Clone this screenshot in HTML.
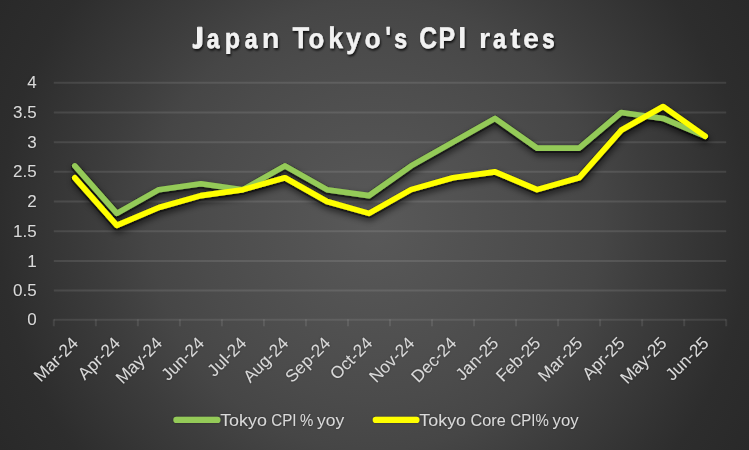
<!DOCTYPE html>
<html><head><meta charset="utf-8"><style>
html,body{margin:0;padding:0;}
body{width:749px;height:450px;overflow:hidden;position:relative;
background:radial-gradient(circle at 374.5px 225px, rgb(89,89,89) 0px, rgb(75,75,75) 175px, rgb(70,70,70) 225px, rgb(61,61,61) 275px, rgb(45,45,45) 375px, rgb(41,41,41) 437px);
font-family:"Liberation Sans", sans-serif;}
svg{position:absolute;left:0;top:0;}
.g{stroke:rgba(255,255,255,0.1);stroke-width:2;}
.t{stroke:rgba(255,255,255,0.09);stroke-width:2;}
.yl{font-size:17px;fill:#d9d9d9;}
.xl{font-size:17.2px;fill:#d9d9d9;}
.ttl{text-rendering:geometricPrecision;font-size:30px;font-weight:bold;fill:#f2f2f2;stroke:#f2f2f2;stroke-linejoin:round;}
.lg{font-size:17px;fill:#d9d9d9;}
</style></head><body>
<svg width="749" height="450" viewBox="0 0 749 450">
<defs>
<filter id="sh" filterUnits="userSpaceOnUse" x="0" y="0" width="749" height="450">
<feMorphology in="SourceAlpha" operator="dilate" radius="0.6"/>
<feGaussianBlur stdDeviation="0.5"/>
<feOffset dx="0.2" dy="0.5"/>
<feComponentTransfer result="tight"><feFuncA type="linear" slope="0.45"/></feComponentTransfer>
<feGaussianBlur in="SourceAlpha" stdDeviation="3.6"/>
<feOffset dx="0.8" dy="3.8"/>
<feComponentTransfer result="wide"><feFuncA type="linear" slope="0.75"/></feComponentTransfer>
<feMerge><feMergeNode in="wide"/><feMergeNode in="tight"/><feMergeNode in="SourceGraphic"/></feMerge>
</filter>
<filter id="tsh" filterUnits="userSpaceOnUse" x="0" y="0" width="749" height="450">
<feGaussianBlur in="SourceAlpha" stdDeviation="1.0"/>
<feOffset dx="0.5" dy="1.8" result="b"/>
<feComponentTransfer><feFuncA type="linear" slope="0.75"/></feComponentTransfer>
<feMerge><feMergeNode/><feMergeNode in="SourceGraphic"/></feMerge>
</filter>
<filter id="lsh" filterUnits="userSpaceOnUse" x="0" y="0" width="749" height="450">
<feGaussianBlur in="SourceAlpha" stdDeviation="0.8"/>
<feComponentTransfer><feFuncA type="linear" slope="0.35"/></feComponentTransfer>
<feMerge><feMergeNode/><feMergeNode in="SourceGraphic"/></feMerge>
</filter>
</defs>
<g class="ttl" filter="url(#tsh)"><path d="M197.5,27.2 H201.9 V42.4 C201.9,46.4 199.8,48.4 196.3,48.4 C195.0,48.4 193.9,48.1 193.0,47.6 V43.9 C193.8,44.5 194.7,44.9 195.6,44.9 C197.0,44.9 197.5,44.0 197.5,42.0 Z"/><text transform="matrix(0.767,0,0,0.909,206.80,47.68)" stroke-width="0.70">a</text><text transform="matrix(0.833,0,0,0.947,224.76,47.77)" stroke-width="0.49">p</text><text transform="matrix(0.767,0,0,0.909,244.70,47.68)" stroke-width="0.70">a</text><text transform="matrix(0.967,0,0,0.941,261.73,47.96)" stroke-width="0.09">n</text><text transform="matrix(0.915,0,0,1.005,292.61,47.87)" stroke-width="0.25">T</text><text transform="matrix(0.860,0,0,0.924,308.57,47.81)" stroke-width="0.41">o</text><text transform="matrix(0.891,0,0,0.997,328.27,47.84)" stroke-width="0.31">k</text><text transform="matrix(0.898,0,0,0.967,346.12,47.86)" stroke-width="0.30">y</text><text transform="matrix(0.881,0,0,0.928,364.42,47.84)" stroke-width="0.35">o</text><text transform="matrix(0.754,0,0,1.016,385.40,47.74)" stroke-width="0.52">&#39;</text><text transform="matrix(0.769,0,0,0.908,394.25,47.69)" stroke-width="0.68">s</text><text transform="matrix(0.818,0,0,0.986,419.22,47.73)" stroke-width="0.56">C</text><text transform="matrix(0.829,0,0,0.993,438.45,47.75)" stroke-width="0.51">P</text><text transform="matrix(1.019,0,0,1.017,457.95,48.00)" stroke-width="0.00">I</text><text transform="matrix(0.965,0,0,0.941,479.03,47.96)" stroke-width="0.09">r</text><text transform="matrix(0.781,0,0,0.911,492.88,47.70)" stroke-width="0.65">a</text><text transform="matrix(1.057,0,0,0.971,510.02,48.00)" stroke-width="0.00">t</text><text transform="matrix(0.958,0,0,0.941,522.94,47.94)" stroke-width="0.12">e</text><text transform="matrix(0.738,0,0,0.903,542.21,47.65)" stroke-width="0.78">s</text></g>
<line x1="53.8" x2="726.2" y1="290.61" y2="290.61" class="g"/><line x1="53.8" x2="726.2" y1="260.93" y2="260.93" class="g"/><line x1="53.8" x2="726.2" y1="231.24" y2="231.24" class="g"/><line x1="53.8" x2="726.2" y1="201.55" y2="201.55" class="g"/><line x1="53.8" x2="726.2" y1="171.86" y2="171.86" class="g"/><line x1="53.8" x2="726.2" y1="142.18" y2="142.18" class="g"/><line x1="53.8" x2="726.2" y1="112.49" y2="112.49" class="g"/><line x1="53.8" x2="726.2" y1="82.80" y2="82.80" class="g"/>
<line x1="53.8" x2="726.2" y1="319.80" y2="319.80" class="t"/>
<line x1="53.80" x2="53.80" y1="319.30" y2="326.30" class="t"/><line x1="95.83" x2="95.83" y1="319.30" y2="326.30" class="t"/><line x1="137.85" x2="137.85" y1="319.30" y2="326.30" class="t"/><line x1="179.88" x2="179.88" y1="319.30" y2="326.30" class="t"/><line x1="221.90" x2="221.90" y1="319.30" y2="326.30" class="t"/><line x1="263.93" x2="263.93" y1="319.30" y2="326.30" class="t"/><line x1="305.95" x2="305.95" y1="319.30" y2="326.30" class="t"/><line x1="347.98" x2="347.98" y1="319.30" y2="326.30" class="t"/><line x1="390.00" x2="390.00" y1="319.30" y2="326.30" class="t"/><line x1="432.03" x2="432.03" y1="319.30" y2="326.30" class="t"/><line x1="474.05" x2="474.05" y1="319.30" y2="326.30" class="t"/><line x1="516.08" x2="516.08" y1="319.30" y2="326.30" class="t"/><line x1="558.10" x2="558.10" y1="319.30" y2="326.30" class="t"/><line x1="600.12" x2="600.12" y1="319.30" y2="326.30" class="t"/><line x1="642.15" x2="642.15" y1="319.30" y2="326.30" class="t"/><line x1="684.18" x2="684.18" y1="319.30" y2="326.30" class="t"/><line x1="726.20" x2="726.20" y1="319.30" y2="326.30" class="t"/>
<g filter="url(#lsh)"><text x="36.6" y="325.10" class="yl" text-anchor="end">0</text><text x="36.6" y="296.21" class="yl" text-anchor="end">0.5</text><text x="36.6" y="266.53" class="yl" text-anchor="end">1</text><text x="36.6" y="236.84" class="yl" text-anchor="end">1.5</text><text x="36.6" y="207.15" class="yl" text-anchor="end">2</text><text x="36.6" y="177.46" class="yl" text-anchor="end">2.5</text><text x="36.6" y="147.78" class="yl" text-anchor="end">3</text><text x="36.6" y="118.09" class="yl" text-anchor="end">3.5</text><text x="36.6" y="88.40" class="yl" text-anchor="end">4</text>
<text class="xl" text-anchor="end" transform="translate(79.31,344.30) rotate(-45)">Mar-24</text><text class="xl" text-anchor="end" transform="translate(121.34,344.30) rotate(-45)">Apr-24</text><text class="xl" text-anchor="end" transform="translate(163.36,344.30) rotate(-45)">May-24</text><text class="xl" text-anchor="end" transform="translate(205.39,344.30) rotate(-45)">Jun-24</text><text class="xl" text-anchor="end" transform="translate(247.41,344.30) rotate(-45)">Jul-24</text><text class="xl" text-anchor="end" transform="translate(289.44,344.30) rotate(-45)">Aug-24</text><text class="xl" text-anchor="end" transform="translate(331.46,344.30) rotate(-45)">Sep-24</text><text class="xl" text-anchor="end" transform="translate(373.49,344.30) rotate(-45)">Oct-24</text><text class="xl" text-anchor="end" transform="translate(415.51,344.30) rotate(-45)">Nov-24</text><text class="xl" text-anchor="end" transform="translate(457.54,344.30) rotate(-45)">Dec-24</text><text class="xl" text-anchor="end" transform="translate(499.56,344.30) rotate(-45)">Jan-25</text><text class="xl" text-anchor="end" transform="translate(541.59,344.30) rotate(-45)">Feb-25</text><text class="xl" text-anchor="end" transform="translate(583.61,344.30) rotate(-45)">Mar-25</text><text class="xl" text-anchor="end" transform="translate(625.64,344.30) rotate(-45)">Apr-25</text><text class="xl" text-anchor="end" transform="translate(667.66,344.30) rotate(-45)">May-25</text><text class="xl" text-anchor="end" transform="translate(709.69,344.30) rotate(-45)">Jun-25</text></g>
<g filter="url(#sh)" fill="none" stroke-width="5.6" stroke-linecap="round" stroke-linejoin="round">
<polyline points="74.81,165.93 116.84,213.43 158.86,189.68 200.89,183.74 242.91,189.68 284.94,165.93 326.96,189.68 368.99,195.61 411.01,165.93 453.04,142.18 495.06,118.43 537.09,148.11 579.11,148.11 621.14,112.49 663.16,118.43 705.19,136.24" stroke="#94ca58"/>
<polyline points="74.81,177.80 116.84,225.30 158.86,207.49 200.89,195.61 242.91,189.68 284.94,177.80 326.96,201.55 368.99,213.43 411.01,189.68 453.04,177.80 495.06,171.86 537.09,189.68 579.11,177.80 621.14,130.30 663.16,106.55 705.19,136.24" stroke="#ffff00"/>
</g>
<g filter="url(#lsh)" fill="none" stroke-width="6.2" stroke-linecap="round">
<line x1="176.4" x2="217.4" y1="419.9" y2="419.9" stroke="#94ca58"/>
<line x1="375.8" x2="416.4" y1="419.9" y2="419.9" stroke="#ffff00"/>
</g>
<g filter="url(#lsh)"><text class="lg" transform="matrix(1.054,0,0,1.000,220.15,425.80)">Tokyo</text><text class="lg" transform="matrix(0.891,0,0,1.000,271.34,425.80)">CPI</text><text class="lg" transform="matrix(0.882,0,0,1.000,300.08,425.80)">%</text><text class="lg" transform="matrix(1.028,0,0,1.000,317.01,425.80)">yoy</text><text class="lg" transform="matrix(1.052,0,0,1.000,419.35,425.80)">Tokyo</text><text class="lg" transform="matrix(0.955,0,0,1.000,470.49,425.80)">Core</text><text class="lg" transform="matrix(0.881,0,0,1.000,510.45,425.80)">CPI%</text><text class="lg" transform="matrix(0.982,0,0,1.000,552.62,425.80)">yoy</text></g>
</svg>
</body></html>
